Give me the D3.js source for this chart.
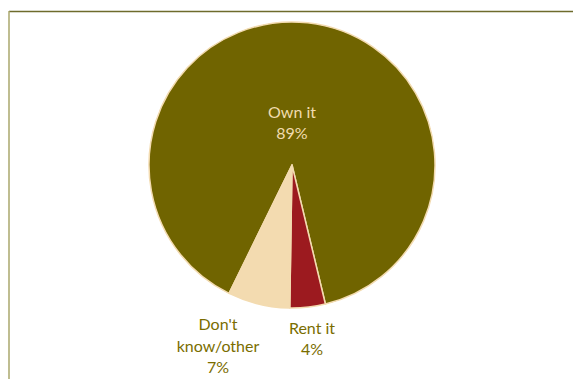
<!DOCTYPE html>
<html>
<head>
<meta charset="utf-8">
<script src="https://cdn.jsdelivr.net/npm/d3@7"></script>
<style>
html,body{margin:0;padding:0;background:#fff;}
svg{display:block;}
</style>
</head>
<body>
<svg id="chart" width="573" height="379"></svg>
<script>
const categories = ["Own it", "Rent it", "Don't know/other"];
const values = [89, 4, 7];
const percentLabels = ["89%", "4%", "7%"];
const colors = ["#706400", "#9c1a1f", "#f3dbb0"];

const svg = d3.select("#chart");
const W = 573, H = 379;

// frame
svg.append("line").attr("x1", 9).attr("x2", W).attr("y1", 11.5).attr("y2", 11.5)
  .attr("stroke", "#6e6b2c").attr("stroke-width", 1.5);
svg.append("line").attr("x1", 9).attr("x2", 9).attr("y1", 11).attr("y2", H)
  .attr("stroke", "#aaa76c").attr("stroke-width", 1.5);

const cx = 292, cy = 165, R = 143;
const deg = Math.PI / 180;
const pie = d3.pie().sort(null).value(d => d)
  .startAngle(-153.9 * deg).endAngle(206.1 * deg);
const arcs = pie(values);
const arc = d3.arc().innerRadius(0).outerRadius(R);

const g = svg.append("g").attr("transform", `translate(${cx},${cy})`);
g.selectAll("path").data(arcs).enter().append("path")
  .attr("d", arc)
  .attr("fill", (d, i) => colors[i])
  .attr("stroke", "#f3dbb0")
  .attr("stroke-width", 1.5)
  .attr("stroke-linejoin", "round");

const font = "Lato, 'Open Sans', sans-serif";
// label positions (centre x, first baseline)
const labelLines = [
  [categories[0], percentLabels[0]],
  ["Rent it", percentLabels[1]],
  ["Don't", "know/other", percentLabels[2]]
];
const labelPos = [[292, 117.5], [312, 333.5], [218, 330]];
const labelColors = ["#f1dcae", "#7a6d00", "#7a6d00"];

labelLines.forEach((lines, i) => {
  const t = svg.append("text")
    .attr("x", labelPos[i][0]).attr("y", labelPos[i][1])
    .attr("text-anchor", "middle")
    .attr("font-family", font)
    .attr("font-size", 16)
    .attr("fill", labelColors[i]);
  lines.forEach((l, j) => {
    t.append("tspan").attr("x", labelPos[i][0]).attr("dy", j === 0 ? 0 : 21.7).text(l);
  });
});
</script>
</body>
</html>
